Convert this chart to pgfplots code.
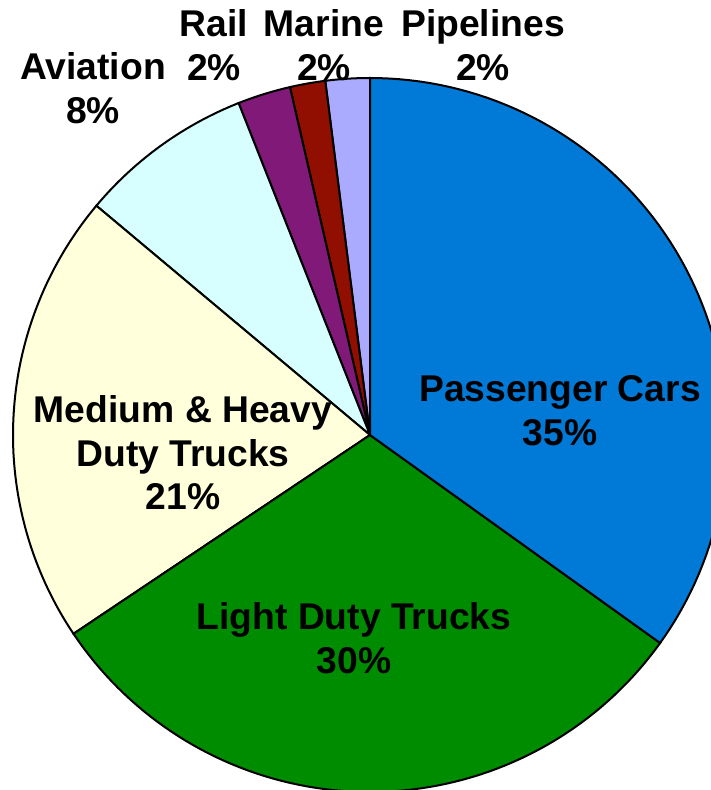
\documentclass[border=0pt]{standalone}
\usepackage{pgfplots}
\pgfplotsset{compat=1.18}
\usepackage{fontspec}
\setmainfont{Liberation Sans}
\definecolor{cPass}{RGB}{0,122,214}
\definecolor{cLight}{RGB}{0,140,0}
\definecolor{cMed}{RGB}{255,255,220}
\definecolor{cAvi}{RGB}{215,255,255}
\definecolor{cRail}{RGB}{128,25,120}
\definecolor{cMar}{RGB}{145,15,0}
\definecolor{cPipe}{RGB}{170,170,255}
% shares (percent), counterclockwise from the top
\def\pPipe{2.0}
\def\pMar{1.6}
\def\pRail{2.4}
\def\pAvi{7.9}
\def\pMed{20.5}
\def\pLight{30.7}
\def\pPass{34.9}
\pgfmathsetmacro\aA{90}
\pgfmathsetmacro\aB{\aA+3.6*\pPipe}
\pgfmathsetmacro\aC{\aB+3.6*\pMar}
\pgfmathsetmacro\aD{\aC+3.6*\pRail}
\pgfmathsetmacro\aE{\aD+3.6*\pAvi}
\pgfmathsetmacro\aF{\aE+3.6*\pMed}
\pgfmathsetmacro\aG{\aF+3.6*\pLight}
\pgfmathsetmacro\aH{\aG+3.6*\pPass}
\def\cx{370}
\def\cy{355}
\def\R{357}
\newcommand\slice[3]{%
  \addplot[draw=black,line width=1bp,fill=#1,domain=#2:#3,samples=80,variable=\t]
    ({\cx+\R*cos(\t)},{\cy+\R*sin(\t)}) -- (axis cs:\cx,\cy) -- cycle;}
\tikzset{lbl/.style={font=\fontsize{18.7}{21.9}\selectfont\bfseries,align=center,text=black,inner sep=0pt}}
\begin{document}
\begin{tikzpicture}
\begin{axis}[name=ax,x=0.5bp,y=0.5bp,xmin=0,xmax=711,ymin=0,ymax=790,
  hide axis,clip=true]
\slice{cPipe}{\aA}{\aB}
\slice{cMar}{\aB}{\aC}
\slice{cRail}{\aC}{\aD}
\slice{cAvi}{\aD}{\aE}
\slice{cMed}{\aE}{\aF}
\slice{cLight}{\aF}{\aG}
\slice{cPass}{\aG}{\aH}
\node[lbl] at (axis cs:560,379) {Passenger Cars\\35\%};
\node[lbl] at (axis cs:354,152) {Light Duty Trucks\\30\%};
\node[lbl] at (axis cs:183,337) {Medium \& Heavy\\Duty Trucks\\21\%};
\node[lbl] at (axis cs:93,702) {Aviation\\8\%};
\node[lbl] at (axis cs:214,745) {Rail\\2\%};
\node[lbl] at (axis cs:324,745) {Marine\\2\%};
\node[lbl] at (axis cs:483,745) {Pipelines\\2\%};
\end{axis}
\pgfresetboundingbox
\path (ax.south west) rectangle (ax.north east);
\end{tikzpicture}
\end{document}
